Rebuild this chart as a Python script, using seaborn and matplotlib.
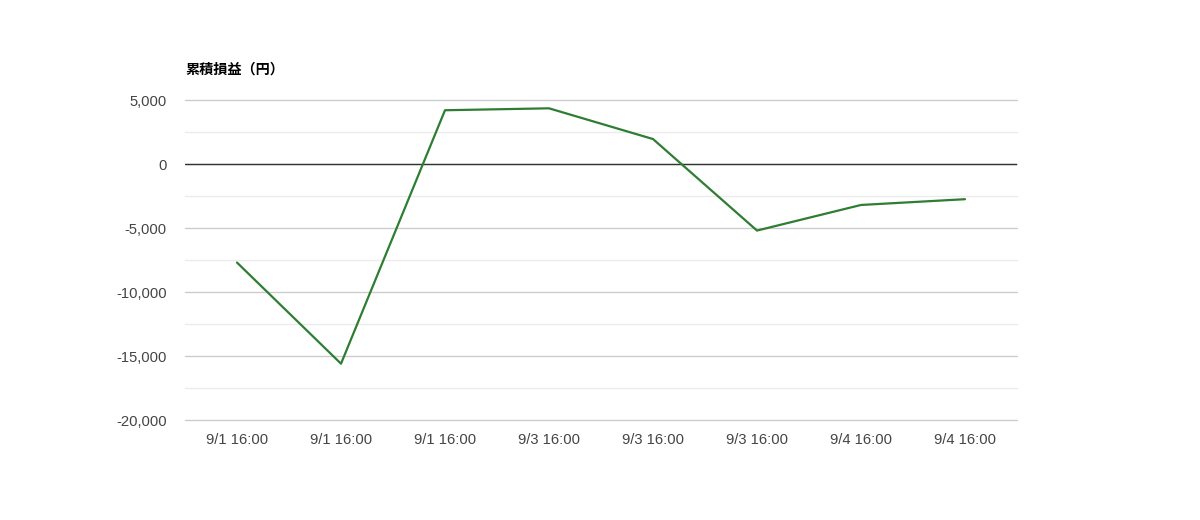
import pandas as pd
import matplotlib.pyplot as plt
import seaborn as sns

labels = ['9/1 16:00', '9/1 16:00', '9/1 16:00', '9/3 16:00',
          '9/3 16:00', '9/3 16:00', '9/4 16:00', '9/4 16:00']
profit = [-7700, -15600, 4200, 4350, 1950, -5200, -3200, -2750]
yticks = [5000, 0, -5000, -10000, -15000, -20000]

sns.set_style('white')
plt.rcParams['font.family'] = ['Liberation Sans', 'Noto Sans CJK JP', 'DejaVu Sans']

df = pd.DataFrame({'idx': range(len(labels)), 'profit': profit})

fig = plt.figure(figsize=(12, 5.2), dpi=100)
ax = fig.add_axes([185 / 1200, 1 - 420 / 520, 832 / 1200, 320 / 520])

# minor and major gridlines
for v in range(-17500, 5000, 5000):
    ax.axhline(v, color='#ebebeb', lw=1, zorder=0, clip_on=False)
for v in yticks:
    ax.axhline(v, color='#cccccc', lw=1, zorder=0, clip_on=False)
ax.axhline(0, color='#333333', lw=1, zorder=1)

sns.lineplot(data=df, x='idx', y='profit', ax=ax, color='#2e7d32', lw=1.6, zorder=3)

ax.set_xlim(-0.5, len(labels) - 0.5)
ax.set_ylim(-20000, 5000)
ax.set_xticks(range(len(labels)))
ax.set_xticklabels(labels)
ax.set_yticks(yticks)
ax.set_yticklabels([f'{v:,}' for v in yticks])
ax.tick_params(axis='both', length=0, labelsize=10.6, colors='#444444')
ax.tick_params(axis='y', pad=13)
ax.tick_params(axis='x', pad=9)
ax.set_xlabel('')
ax.set_ylabel('')
for s in ax.spines.values():
    s.set_visible(False)

fig.text(185 / 1200, 1 - 70 / 520, '累積損益（円）', fontsize=10.2, fontweight='bold',
         color='black', family=['Noto Sans CJK JP', 'DejaVu Sans'], va='center', ha='left')

plt.savefig('out.png', dpi=100)
